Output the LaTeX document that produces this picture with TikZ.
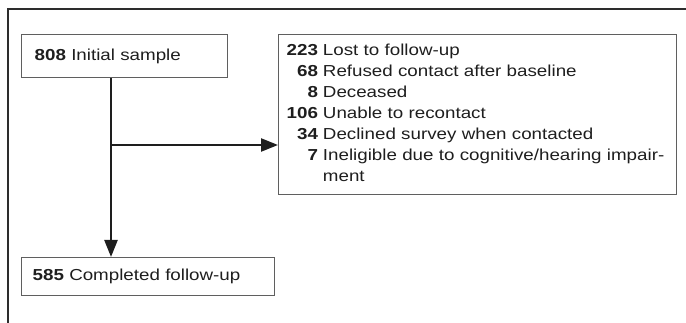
\documentclass[tikz,border=0pt]{standalone}
\usepackage{fontspec}
\setmainfont[FakeStretch=1.18]{Liberation Sans}
\usetikzlibrary{arrows.meta}
\definecolor{FrameGray}{RGB}{45,45,45}
\definecolor{BoxGray}{RGB}{95,95,95}
\definecolor{InkBlack}{RGB}{30,30,30}

\begin{document}
\begin{tikzpicture}[x=1pt,y=-1pt,
  every node/.style={font=\fontsize{15.9}{21}\selectfont, text=InkBlack},
  stagebox/.style={draw=BoxGray, line width=1.3pt, anchor=north west, inner xsep=13pt, align=left},
  flow/.style={draw=InkBlack, line width=2.4pt, -{Triangle[length=17pt,width=13pt]}}]
  \useasboundingbox (0,0) rectangle (686,323);
  % outer frame, cut at right and bottom
  \draw[FrameGray, line width=2.5pt] (8,323) -- (8,9) -- (686,9);
  % stages
  \node[stagebox, text width=180pt, minimum height=43pt] (init) at (21,34) {\textbf{808} Initial sample};
  \node[stagebox, text width=231pt, inner xsep=11pt, minimum height=38pt] (done) at (21,257) {\textbf{585} Completed follow-up};
  \node[stagebox, text width=382pt, inner xsep=8pt, minimum height=160pt] (lost) at (278,34) {%
    \begin{tabular}{@{}r@{\hspace{5pt}}l@{}}
      \textbf{223} & Lost to follow-up\\
      \textbf{68} & Refused contact after baseline\\
      \textbf{8} & Deceased\\
      \textbf{106} & Unable to recontact\\
      \textbf{34} & Declined survey when contacted\\
      \textbf{7} & Ineligible due to cognitive/hearing impair-\\
       & ment
    \end{tabular}};
  % connectors
  \coordinate (split) at (111,145);
  \draw[flow] (init.south -| split) -- (done.north -| split);
  \draw[flow] (split) -- (split -| lost.west);
\end{tikzpicture}
\end{document}
